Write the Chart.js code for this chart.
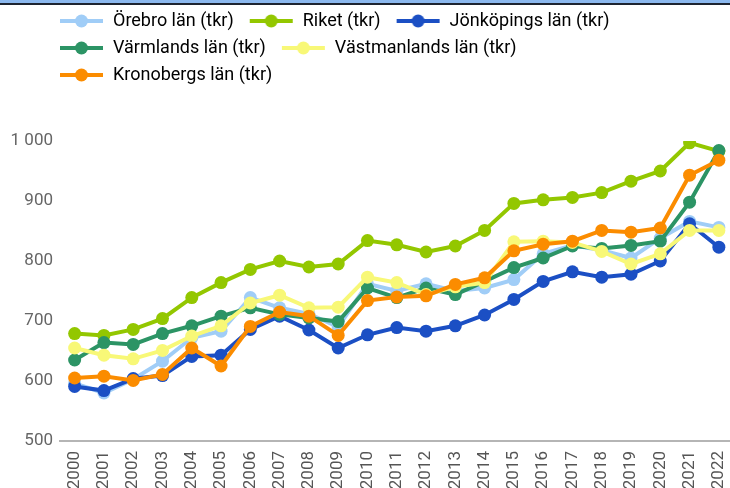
<!DOCTYPE html>
<html lang="sv">
<head>
<meta charset="utf-8">
<title>Län (tkr)</title>
<script src="https://cdn.jsdelivr.net/npm/chart.js@4.4.1/dist/chart.umd.min.js"></script>
<style>
  html, body { margin: 0; padding: 0; background: #fff; }
  #wrap { position: relative; width: 730px; height: 488px; overflow: hidden; }
  #plot { position: absolute; left: 0; top: 0; width: 740px; height: 488px; }
  #topbar { position: absolute; left: 0; top: 0; width: 100%; height: 3px; background: #8bb8ee; border-bottom: 2px solid #1d2430; z-index: 2; }
</style>
</head>
<body>
<div id="wrap">
  <div id="topbar"></div>
  <div id="plot"><canvas id="chart"></canvas></div>
</div>
<script>
const years = ["2000", "2001", "2002", "2003", "2004", "2005", "2006", "2007", "2008", "2009", "2010",
  "2011", "2012", "2013", "2014", "2015", "2016", "2017", "2018", "2019", "2020", "2021", "2022"];

const orebro = [596, 580, 603, 633, 672, 683, 739, 722, 712, 690, 762, 750, 762, 750, 755, 769, 812, 826, 818, 805, 838, 866, 856];
const riket = [679, 676, 686, 704, 739, 764, 786, 800, 790, 795, 834, 827, 815, 825, 851, 896, 902, 906, 914, 933, 950, 997, 983];
const jonkoping = [591, 584, 604, 609, 641, 643, 686, 708, 685, 655, 677, 689, 683, 692, 710, 736, 766, 782, 773, 778, 800, 862, 823];
const varmland = [635, 664, 661, 679, 692, 708, 722, 711, 705, 699, 755, 739, 755, 744, 766, 789, 805, 825, 821, 826, 833, 898, 984];
const vastmanland = [655, 643, 637, 651, 675, 692, 730, 743, 722, 723, 773, 764, 744, 757, 764, 832, 833, 831, 816, 795, 812, 851, 851];
const kronoberg = [605, 608, 601, 611, 655, 625, 691, 715, 708, 676, 734, 740, 742, 761, 772, 817, 828, 833, 851, 848, 855, 943, 968];

const yTicks = [500, 600, 700, 800, 900, 1000];

const series = [
  { label: "Örebro län (tkr)", data: orebro, color: "#a0cdf7", order: 5 },
  { label: "Riket (tkr)", data: riket, color: "#93c700", order: 4 },
  { label: "Jönköpings län (tkr)", data: jonkoping, color: "#1b4fc4", order: 3 },
  { label: "Värmlands län (tkr)", data: varmland, color: "#2c9465", order: 2 },
  { label: "Västmanlands län (tkr)", data: vastmanland, color: "#f8f877", order: 1 },
  { label: "Kronobergs län (tkr)", data: kronoberg, color: "#fb8c00", order: 0 }
];

Chart.defaults.font.family = "Roboto";

// small line + dot used as legend marker
function legendMarker(color) {
  const c = document.createElement("canvas");
  c.width = 51;
  c.height = 16;
  const ctx = c.getContext("2d");
  ctx.strokeStyle = color;
  ctx.lineWidth = 4;
  ctx.beginPath();
  ctx.moveTo(7, 8);
  ctx.lineTo(50, 8);
  ctx.stroke();
  ctx.fillStyle = color;
  ctx.beginPath();
  ctx.arc(28.5, 8, 6.5, 0, Math.PI * 2);
  ctx.fill();
  return c;
}

const markers = series.map((s) => legendMarker(s.color));

function formatTal(value) {
  return String(value).replace(/\B(?=(\d{3})+(?!\d))/g, " ");
}

// legend rows start a bit in from the left edge, like the original
const legendShift = {
  id: "legendShift",
  beforeDraw(chart) {
    if (chart.legend) {
      chart.legend.left = 44;
    }
  }
};

new Chart(document.getElementById("chart"), {
  type: "line",
  data: {
    labels: years,
    datasets: series.map((s) => ({
      label: s.label,
      data: s.data,
      order: s.order,
      borderColor: s.color,
      backgroundColor: s.color,
      borderWidth: 4,
      pointRadius: 6.5,
      pointHoverRadius: 6.5,
      pointBorderWidth: 0,
      pointBackgroundColor: s.color,
      tension: 0
    }))
  },
  options: {
    responsive: true,
    maintainAspectRatio: false,
    animation: false,
    layout: {
      padding: { left: 0, top: 3, right: 0, bottom: 0 }
    },
    scales: {
      x: {
        offset: true,
        grid: { display: false, drawTicks: false },
        border: { display: true, color: "#b5b5b5", width: 2 },
        ticks: {
          color: "#555",
          font: { size: 17 },
          minRotation: 90,
          maxRotation: 90,
          autoSkip: false,
          padding: 10
        },
        afterFit: (scale) => {
          scale.height = 47;
          scale.paddingLeft = 0;
          scale.paddingRight = 0;
        }
      },
      y: {
        min: 500,
        max: 1000,
        grid: { display: false, drawTicks: false },
        border: { display: false },
        afterBuildTicks: (scale) => { scale.ticks = yTicks.map((v) => ({ value: v })); },
        ticks: {
          color: "#666",
          font: { size: 17 },
          padding: 7,
          callback: (value) => formatTal(value)
        },
        afterFit: (scale) => { scale.width = 60; }
      }
    },
    plugins: {
      legend: {
        position: "top",
        align: "start",
        fullSize: false,
        labels: {
          usePointStyle: true,
          pointStyleWidth: 51,
          padding: 9,
          color: "#4a4a4a",
          font: { size: 18 },
          generateLabels: (chart) => chart.data.datasets.map((ds, i) => ({
            text: ds.label,
            fillStyle: ds.borderColor,
            strokeStyle: ds.borderColor,
            lineWidth: 0,
            pointStyle: markers[i],
            hidden: false,
            datasetIndex: i
          }))
        }
      },
      // empty title just to push the plot area down under the legend
      title: {
        display: true,
        text: "",
        weight: 500,
        padding: { top: 0, bottom: 0 },
        font: { size: 47, lineHeight: 1 }
      },
      tooltip: { enabled: false }
    }
  },
  plugins: [legendShift]
});
</script>
</body>
</html>
